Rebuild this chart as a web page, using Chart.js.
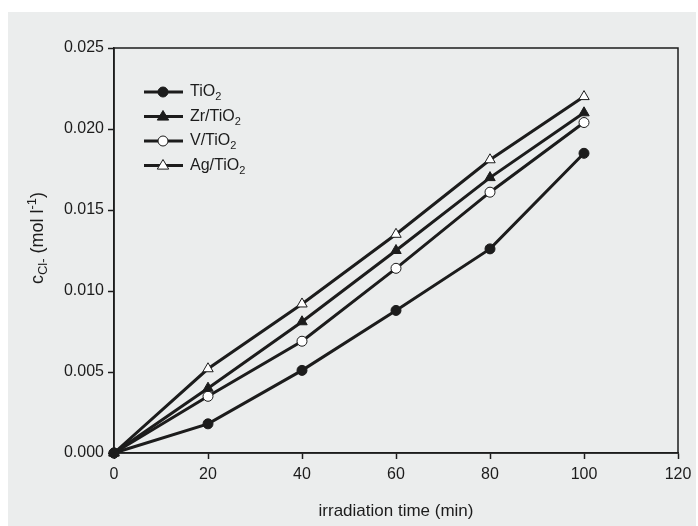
<!DOCTYPE html>
<html>
<head>
<meta charset="utf-8">
<script src="https://cdn.jsdelivr.net/npm/chart.js@4.4.1/dist/chart.umd.min.js"></script>
<style>
  html, body { margin: 0; padding: 0; background: #ffffff; }
  #wrap { position: relative; width: 698px; height: 526px; }
  canvas { display: block; }
</style>
</head>
<body>
<div id="wrap"><canvas id="myChart" width="698" height="526"></canvas></div>
<script>
// Data
const times = [0, 20, 40, 60, 80, 100];
const tio2 = [0, 0.0018, 0.0051, 0.0088, 0.0126, 0.0185];
const zrTio2 = [0, 0.0040, 0.0081, 0.0125, 0.0170, 0.0210];
const vTio2 = [0, 0.0035, 0.0069, 0.0114, 0.0161, 0.0204];
const agTio2 = [0, 0.0052, 0.0092, 0.0135, 0.0181, 0.0220];
const seriesNames = [["Ti", "O", "2"], ["Zr/Ti", "O", "2"], ["V/Ti", "O", "2"], ["Ag/Ti", "O", "2"]];
const xTicks = [0, 20, 40, 60, 80, 100, 120];
const yTicks = [0, 0.005, 0.010, 0.015, 0.020, 0.025];

const ink = "#1c1c1c";
const fontFamily = "'Liberation Sans', Arial, sans-serif";

function toPoints(values) {
	return times.map((t, i) => ({ x: t, y: values[i] }));
}

function makeSet(values, style, fill, radius) {
	return {
		data: toPoints(values),
		borderColor: ink,
		borderWidth: 3,
		pointStyle: style,
		pointRadius: radius,
		pointBackgroundColor: fill,
		pointBorderColor: ink,
		pointBorderWidth: 1,
		clip: false,
	};
}

// --------------------------- Plugins ---------------------------
const backdrop = {
	id: "backdrop",
	beforeDraw(chart) {
		const c = chart.ctx;
		c.save();
		c.fillStyle = "#ffffff";
		c.fillRect(0, 0, chart.width, chart.height);
		c.fillStyle = "#ebeded";
		c.fillRect(8, 12, 688, chart.height - 12);
		c.restore();
	},
	afterDatasetsDraw(chart) {
		const a = chart.chartArea;
		const c = chart.ctx;
		c.save();
		c.strokeStyle = ink;
		c.lineWidth = 1.5;
		c.strokeRect(a.left, a.top, a.right - a.left, a.bottom - a.top);
		c.restore();
	},
};

// text with a subscript piece, drawn left to right
function drawSub(c, parts, x, y, size) {
	c.font = `${size}px ${fontFamily}`;
	c.fillText(parts[0] + parts[1], x, y);
	let w = c.measureText(parts[0] + parts[1]).width;
	c.font = `${Math.round(size * 0.7)}px ${fontFamily}`;
	c.fillText(parts[2], x + w, y + 5);
}

const customLegend = {
	id: "customLegend",
	afterDraw(chart) {
		const c = chart.ctx;
		c.save();
		c.textBaseline = "middle";
		chart.data.datasets.forEach((ds, i) => {
			const y = 92 + i * 24.5;
			c.strokeStyle = ink;
			c.lineWidth = 3;
			c.beginPath();
			c.moveTo(144, y);
			c.lineTo(183, y);
			c.stroke();
			c.fillStyle = ds.pointBackgroundColor;
			c.lineWidth = 1;
			c.beginPath();
			if (ds.pointStyle === "circle") {
				c.arc(163, y, ds.pointRadius, 0, Math.PI * 2);
			} else {
				const r = ds.pointRadius;
				c.moveTo(163, y - r);
				c.lineTo(163 + r * 0.95, y + r * 0.6);
				c.lineTo(163 - r * 0.95, y + r * 0.6);
				c.closePath();
			}
			c.fill();
			c.stroke();
			c.fillStyle = ink;
			drawSub(c, seriesNames[i], 190, y, 16);
		});
		c.restore();
	},
};

const yTitle = {
	id: "yTitle",
	afterDraw(chart) {
		const c = chart.ctx;
		c.save();
		c.fillStyle = ink;
		c.textBaseline = "middle";
		c.translate(38, 238);
		c.rotate(-Math.PI / 2);
		const big = `18px ${fontFamily}`;
		const small = `13px ${fontFamily}`;
		const pieces = [
			["c", big, 0],
			["Cl-", small, 5],
			[" (mol l", big, 0],
			["-1", small, -6],
			[")", big, 0],
		];
		let total = 0;
		pieces.forEach(([t, f]) => {
			c.font = f;
			total += c.measureText(t).width;
		});
		let x = -total / 2;
		pieces.forEach(([t, f, dy]) => {
			c.font = f;
			c.fillText(t, x, dy);
			x += c.measureText(t).width;
		});
		c.restore();
	},
};

// --------------------------- Chart Object ---------------------------
const ctx = document.getElementById("myChart").getContext("2d");
const chart = new Chart(ctx, {
	type: "line",
	data: {
		datasets: [
			makeSet(tio2, "circle", ink, 5),
			makeSet(zrTio2, "triangle", ink, 6),
			makeSet(vTio2, "circle", "#ffffff", 5),
			makeSet(agTio2, "triangle", "#ffffff", 6),
		],
	},
	options: {
		responsive: false,
		animation: false,
		layout: { padding: { top: 48, right: 20, left: 0, bottom: 0 } },
		plugins: {
			legend: { display: false },
			tooltip: { enabled: false },
		},
		scales: {
			x: {
				type: "linear",
				min: 0,
				max: 120,
				afterBuildTicks: (s) => { s.ticks = xTicks.map((v) => ({ value: v })); },
				afterFit: (s) => { s.height = 73; },
				ticks: { color: ink, font: { size: 16, family: fontFamily }, padding: 6, maxRotation: 0 },
				grid: { drawOnChartArea: false, tickLength: 6, tickColor: ink, tickWidth: 1.5 },
				border: { color: ink, width: 1.5 },
				title: {
					display: true,
					text: "irradiation time (min)",
					color: ink,
					font: { size: 17, family: fontFamily },
					padding: { top: 4 },
				},
			},
			y: {
				type: "linear",
				min: 0,
				max: 0.025,
				afterBuildTicks: (s) => { s.ticks = yTicks.map((v) => ({ value: v })); },
				afterFit: (s) => { s.width = 114; },
				ticks: {
					color: ink,
					font: { size: 16, family: fontFamily },
					padding: 4,
					callback: (v) => Number(v).toFixed(3),
				},
				grid: { drawOnChartArea: false, tickLength: 6, tickColor: ink, tickWidth: 1.5 },
				border: { color: ink, width: 1.5 },
			},
		},
	},
	plugins: [backdrop, customLegend, yTitle],
});
</script>
</body>
</html>
